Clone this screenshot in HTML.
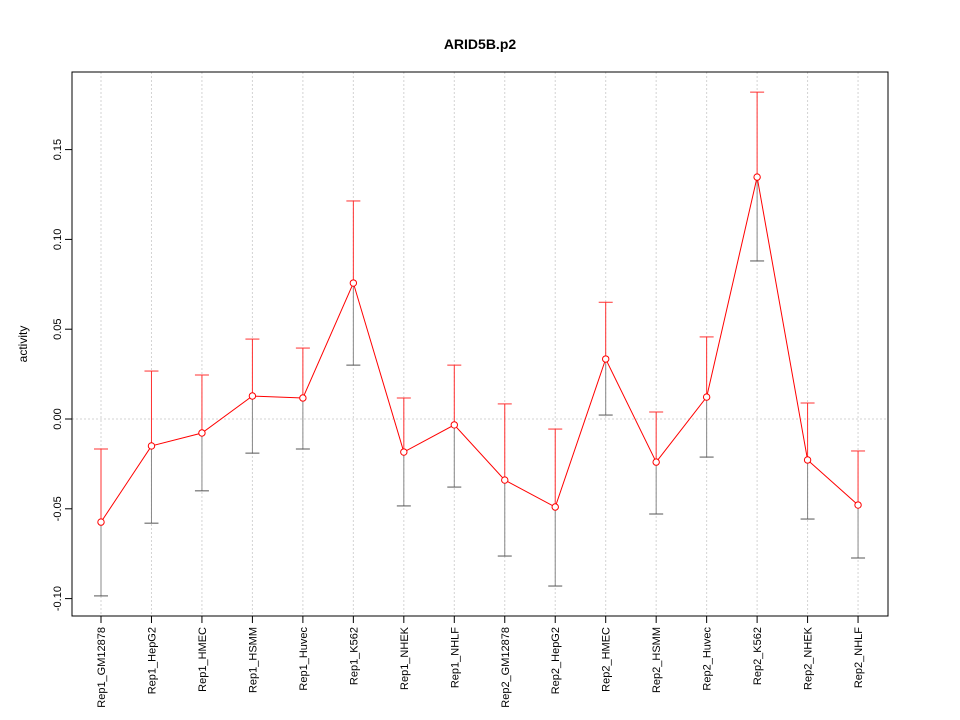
<!DOCTYPE html>
<html><head><meta charset="utf-8"><style>
body{margin:0;background:#fff;}
svg{display:block;font-family:"Liberation Sans",sans-serif;}
</style></head><body>
<svg id="chart" width="960" height="720">
<text x="480" y="49" text-anchor="middle" font-size="14" font-weight="bold">ARID5B.p2</text>
<text transform="translate(27,344) rotate(-90)" text-anchor="middle" font-size="12">activity</text>
<g id="grid"></g><g id="axes"></g><g id="marks"></g>
<rect x="72" y="72" width="816" height="544" fill="none" stroke="#000"/>
</svg>
<script>
const categories=["Rep1_GM12878","Rep1_HepG2","Rep1_HMEC","Rep1_HSMM","Rep1_Huvec","Rep1_K562","Rep1_NHEK","Rep1_NHLF","Rep2_GM12878","Rep2_HepG2","Rep2_HMEC","Rep2_HSMM","Rep2_Huvec","Rep2_K562","Rep2_NHEK","Rep2_NHLF"];
const values=[-0.0574,-0.015,-0.0078,0.0128,0.0117,0.0757,-0.0184,-0.0033,-0.034,-0.049,0.0334,-0.024,0.0122,0.1347,-0.0228,-0.0479];
const upper=[-0.0167,0.0267,0.0245,0.0445,0.0395,0.1214,0.0117,0.030,0.0084,-0.0056,0.065,0.0039,0.0457,0.182,0.0089,-0.0178];
const lower=[-0.0985,-0.058,-0.040,-0.019,-0.0167,0.030,-0.0484,-0.0379,-0.0763,-0.093,0.0022,-0.0529,-0.0212,0.088,-0.0557,-0.0774];
const yTicks=[-0.10,-0.05,0.00,0.05,0.10,0.15];
const yTickLabels=["-0.10","-0.05","0.00","0.05","0.10","0.15"];
const NS="http://www.w3.org/2000/svg";
const x=i=>101+i*50.47;
const y=v=>419-v*1796;
function mk(p,t,a){const e=document.createElementNS(NS,t);for(const k in a)e.setAttribute(k,a[k]);p.appendChild(e);return e;}
const grid=document.getElementById('grid'),axes=document.getElementById('axes'),marks=document.getElementById('marks');
const g0=mk(grid,'line',{x1:72,x2:888,y1:y(0),y2:y(0),stroke:'#d3d3d3','stroke-dasharray':'2,2'});


categories.forEach((c,i)=>{
 const gl=mk(grid,'line',{x1:x(i),x2:x(i),y1:72,y2:616,stroke:'#d3d3d3','stroke-dasharray':'2,2'});
 
 
 const tk=mk(axes,'line',{x1:x(i),x2:x(i),y1:616,y2:623,stroke:'#000'});
 
 
 const t=mk(axes,'text',{transform:`translate(${x(i)+4},627) rotate(-90)`,'text-anchor':'end','font-size':11});
 t.textContent=c;
 
 
});
yTicks.forEach((v,i)=>{
 const tk=mk(axes,'line',{x1:65,x2:72,y1:y(v),y2:y(v),stroke:'#000'});
 
 
 const t=mk(axes,'text',{transform:`translate(61,${y(v)}) rotate(-90)`,'text-anchor':'middle','font-size':11});
 t.textContent=yTickLabels[i];
 
 
});
values.forEach((v,i)=>{
 const eu=mk(marks,'line',{x1:x(i),x2:x(i),y1:y(upper[i]),y2:y(v),stroke:'#ff3030'});
 
 
 const el=mk(marks,'line',{x1:x(i),x2:x(i),y1:y(v),y2:y(lower[i]),stroke:'#888'});
 
 
 const cu=mk(marks,'line',{x1:x(i)-7,x2:x(i)+7,y1:y(upper[i]),y2:y(upper[i]),stroke:'#ff3030'});
 
 
 const cl=mk(marks,'line',{x1:x(i)-7,x2:x(i)+7,y1:y(lower[i]),y2:y(lower[i]),stroke:'#555'});
 
 
});
const ln=mk(marks,'polyline',{points:values.map((v,i)=>x(i)+','+y(v)).join(' '),fill:'none',stroke:'#ff0000'});


values.forEach((v,i)=>{
 const p=mk(marks,'circle',{cx:x(i),cy:y(v),r:3.2,fill:'#fff',stroke:'#ff0000'});
 
 
});
</script>
</body></html>
